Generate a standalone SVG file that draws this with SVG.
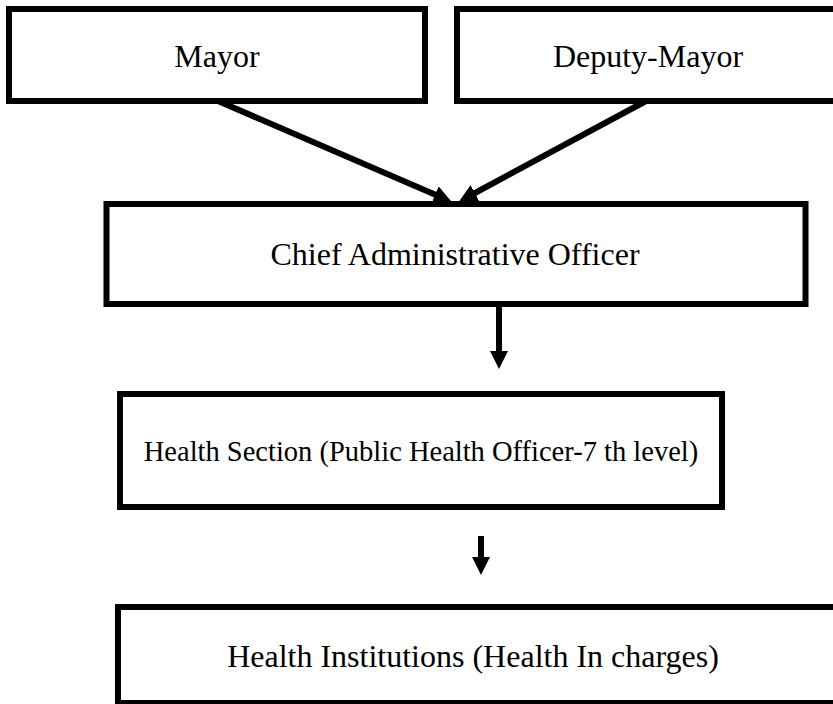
<svg xmlns="http://www.w3.org/2000/svg" width="833" height="704" viewBox="0 0 833 704">
<style>
.box{fill:#fff;stroke:#000;stroke-width:6}
.lbl{font-family:"Liberation Serif","Times New Roman",serif;font-size:32px;fill:#000;text-anchor:middle}
.conn{stroke:#000;stroke-width:6;fill:none}
</style>
<defs>
<marker id="ah" markerUnits="userSpaceOnUse" markerWidth="18" markerHeight="18" refX="1" refY="9" orient="auto" viewBox="0 0 18 18">
<path d="M0,0 L18,9 L0,18 z" fill="#000"/>
</marker>
</defs>
<rect width="833" height="704" fill="#fff"/>
<g id="mayor">
<rect class="box" x="9" y="9" width="416" height="92"/>
<text class="lbl" x="217" y="67">Mayor</text>
</g>
<g id="deputy-mayor">
<rect class="box" x="457" y="9" width="390" height="92"/>
<text class="lbl" x="648" y="67">Deputy-Mayor</text>
</g>
<g id="cao">
<rect class="box" x="106.5" y="204" width="699" height="100"/>
<text class="lbl" x="455" y="265">Chief Administrative Officer</text>
</g>
<g id="health-section">
<rect class="box" x="120" y="394" width="602" height="113"/>
<text class="lbl" x="421" y="461" style="font-size:28.5px">Health Section (Public Health Officer-7 th level)</text>
</g>
<g id="health-institutions">
<rect class="box" x="118" y="607" width="730" height="96"/>
<text class="lbl" x="473" y="667">Health Institutions (Health In charges)</text>
</g>
<g id="connectors">
<line class="conn" x1="218" y1="101" x2="436" y2="195" marker-end="url(#ah)"/>
<line class="conn" x1="646" y1="101" x2="474" y2="193.5" marker-end="url(#ah)"/>
<line class="conn" x1="499" y1="304" x2="499" y2="352" marker-end="url(#ah)"/>
<line class="conn" x1="481" y1="536" x2="481" y2="558" marker-end="url(#ah)"/>
</g>
</svg>
